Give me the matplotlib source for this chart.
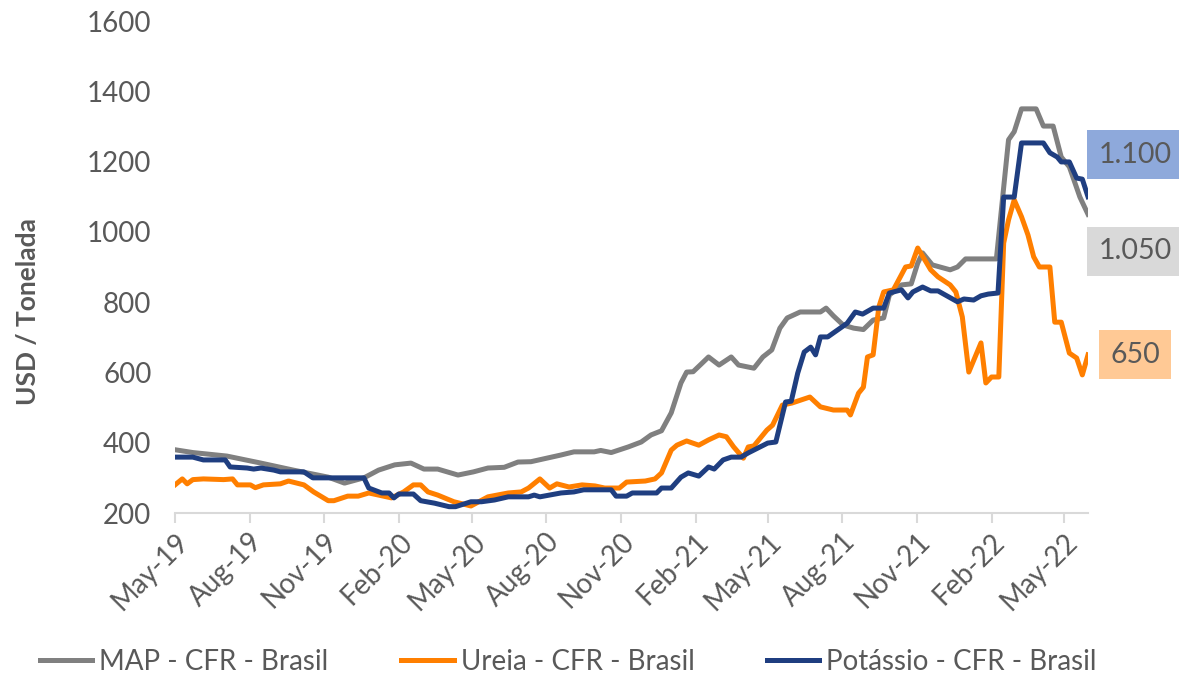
import matplotlib
matplotlib.use("Agg")
import matplotlib.pyplot as plt
import matplotlib.dates as mdates
import pandas as pd

# MAP - CFR - Brasil (USD / t)
map_dates = ["2019-05-01", "2019-05-23", "2019-07-04", "2019-08-15", "2019-09-24", "2019-11-06",
             "2019-11-26", "2019-12-20", "2020-01-07", "2020-01-27", "2020-02-16", "2020-03-03",
             "2020-03-20", "2020-04-14", "2020-05-03", "2020-05-21", "2020-06-10", "2020-06-27",
             "2020-07-13", "2020-08-19", "2020-09-04", "2020-09-29", "2020-10-07", "2020-10-20",
             "2020-11-10", "2020-11-26", "2020-12-08", "2020-12-21", "2021-01-02", "2021-01-14",
             "2021-01-21", "2021-01-29", "2021-02-08", "2021-02-17", "2021-03-02", "2021-03-17",
             "2021-03-26", "2021-04-14", "2021-04-25", "2021-05-06", "2021-05-16", "2021-05-25",
             "2021-06-10", "2021-07-05", "2021-07-12", "2021-07-21", "2021-08-02", "2021-08-15",
             "2021-08-27", "2021-09-08", "2021-09-21", "2021-09-28", "2021-10-13", "2021-10-25",
             "2021-11-02", "2021-11-08", "2021-11-20", "2021-12-12", "2021-12-21", "2021-12-31",
             "2022-02-07", "2022-02-22", "2022-03-01", "2022-03-10", "2022-03-28", "2022-04-06",
             "2022-04-18", "2022-04-28", "2022-05-08", "2022-05-21", "2022-05-31"]
map_vals = [380, 372, 362, 342, 322, 302,
            285, 300, 322, 337, 342, 325,
            325, 308, 317, 328, 330, 345,
            346, 365, 374, 374, 378, 372,
            388, 402, 422, 434, 485, 570,
            601, 602, 624, 644, 621, 644,
            621, 612, 644, 664, 726, 755,
            772, 772, 783, 761, 735, 726,
            722, 749, 755, 820, 849, 852,
            911, 940, 906, 892, 900, 923,
            923, 1262, 1285, 1350, 1350, 1301,
            1301, 1213, 1185, 1099, 1050]

# Ureia - CFR - Brasil
ureia_dates = ["2019-05-01", "2019-05-10", "2019-05-16", "2019-05-23", "2019-06-05", "2019-06-30",
               "2019-07-11", "2019-07-17", "2019-08-02", "2019-08-08", "2019-08-18", "2019-09-08",
               "2019-09-18", "2019-10-07", "2019-10-19", "2019-11-06", "2019-11-13", "2019-11-30",
               "2019-12-13", "2019-12-26", "2020-01-23", "2020-02-07", "2020-02-19", "2020-02-28",
               "2020-03-08", "2020-03-20", "2020-04-09", "2020-04-30", "2020-05-21", "2020-06-15",
               "2020-07-01", "2020-07-10", "2020-07-24", "2020-08-05", "2020-08-14", "2020-08-29",
               "2020-09-14", "2020-09-30", "2020-10-12", "2020-10-30", "2020-11-08", "2020-12-01",
               "2020-12-13", "2020-12-21", "2021-01-02", "2021-01-09", "2021-01-21", "2021-02-05",
               "2021-02-17", "2021-03-02", "2021-03-11", "2021-03-20", "2021-04-01", "2021-04-07",
               "2021-04-14", "2021-04-30", "2021-05-07", "2021-05-19", "2021-05-31", "2021-06-22",
               "2021-07-05", "2021-07-21", "2021-08-07", "2021-08-11", "2021-08-21", "2021-08-27",
               "2021-09-01", "2021-09-08", "2021-09-15", "2021-09-21", "2021-10-03", "2021-10-18",
               "2021-10-25", "2021-11-02", "2021-11-18", "2021-11-27", "2021-12-12", "2021-12-19",
               "2021-12-27", "2022-01-04", "2022-01-19", "2022-01-25", "2022-02-01", "2022-02-10",
               "2022-02-16", "2022-02-22", "2022-03-01", "2022-03-10", "2022-03-18", "2022-03-25",
               "2022-04-01", "2022-04-14", "2022-04-20", "2022-04-28", "2022-05-08", "2022-05-17",
               "2022-05-24", "2022-05-31"]
ureia_vals = [280, 297, 283, 295, 297, 295,
              297, 280, 280, 272, 280, 283,
              291, 280, 260, 235, 235, 248,
              248, 257, 243, 260, 280, 280,
              260, 251, 232, 220, 246, 257,
              260, 271, 297, 271, 283, 274,
              280, 277, 271, 271, 288, 291,
              297, 314, 379, 393, 405, 393,
              408, 422, 417, 388, 356, 388,
              391, 436, 450, 507, 513, 530,
              502, 493, 493, 479, 541, 558,
              644, 650, 786, 829, 835, 900,
              903, 954, 892, 872, 849, 829,
              758, 601, 684, 570, 587, 587,
              968, 1034, 1091, 1043, 991, 929,
              900, 900, 743, 743, 655, 641,
              593, 650]

# Potássio - CFR - Brasil
pot_dates = ["2019-05-01", "2019-05-23", "2019-06-05", "2019-07-02", "2019-07-08", "2019-07-29",
             "2019-08-06", "2019-08-15", "2019-08-31", "2019-09-08", "2019-10-07", "2019-10-18",
             "2019-12-20", "2019-12-26", "2020-01-11", "2020-01-20", "2020-01-26", "2020-02-01",
             "2020-02-19", "2020-02-28", "2020-03-16", "2020-04-03", "2020-04-11", "2020-04-30",
             "2020-05-13", "2020-05-29", "2020-06-15", "2020-07-10", "2020-07-17", "2020-07-24",
             "2020-08-19", "2020-09-04", "2020-09-16", "2020-10-20", "2020-10-26", "2020-11-08",
             "2020-11-15", "2020-12-15", "2020-12-21", "2021-01-02", "2021-01-14", "2021-01-23",
             "2021-02-05", "2021-02-17", "2021-02-24", "2021-03-07", "2021-03-17", "2021-03-29",
             "2021-04-07", "2021-04-19", "2021-05-01", "2021-05-11", "2021-05-23", "2021-05-30",
             "2021-06-07", "2021-06-15", "2021-06-23", "2021-06-29", "2021-07-05", "2021-07-14",
             "2021-08-07", "2021-08-17", "2021-08-26", "2021-09-08", "2021-09-21", "2021-09-28",
             "2021-10-13", "2021-10-21", "2021-10-27", "2021-11-08", "2021-11-18", "2021-11-27",
             "2021-12-21", "2021-12-29", "2022-01-10", "2022-01-19", "2022-01-28", "2022-02-09",
             "2022-02-16", "2022-03-01", "2022-03-10", "2022-04-06", "2022-04-14", "2022-04-23",
             "2022-04-28", "2022-05-08", "2022-05-17", "2022-05-24", "2022-05-31"]
pot_vals = [359, 359, 351, 351, 331, 328,
            325, 328, 322, 317, 317, 300,
            300, 271, 257, 257, 243, 254,
            254, 235, 228, 218, 218, 232,
            232, 237, 246, 246, 251, 246,
            257, 260, 266, 266, 248, 248,
            257, 257, 271, 271, 302, 314,
            305, 331, 325, 351, 359, 359,
            371, 385, 399, 402, 516, 518,
            598, 658, 672, 650, 701, 701,
            740, 772, 766, 783, 783, 826,
            835, 812, 829, 843, 832, 832,
            801, 809, 806, 818, 823, 826,
            1099, 1099, 1253, 1253, 1225, 1213,
            1199, 1199, 1153, 1150, 1100]

series_names = ["MAP - CFR - Brasil", "Ureia - CFR - Brasil", "Potássio - CFR - Brasil"]
line_colors = ["#808080", "#FF7F00", "#1F3E80"]
box_colors = ["#D9D9D9", "#FFC995", "#8EA9DB"]
label_shift = [-37, 0, 42]  # pixels, so the end labels don't overlap

plt.rcParams["font.family"] = ["Lato", "DejaVu Sans"]
txt_color = "#595959"

fig = plt.figure(figsize=(11.79, 6.77), dpi=100)
ax = fig.add_axes([175 / 1179, 1 - 513 / 677, (1088 - 175) / 1179, (513 - 21) / 677])

all_dates = [map_dates, ureia_dates, pot_dates]
all_vals = [map_vals, ureia_vals, pot_vals]
for d, v, name, c in zip(all_dates, all_vals, series_names, line_colors):
    ax.plot(pd.to_datetime(d), v, color=c, lw=3.6, label=name, solid_joinstyle="round")

# end-of-series value boxes
for d, v, c, bc, dy in zip(all_dates, all_vals, line_colors, box_colors, label_shift):
    txt = f"{v[-1]:,.0f}".replace(",", ".")
    ax.annotate(txt, xy=(pd.to_datetime(d[-1]), v[-1]), xytext=(47, dy),
                textcoords="offset pixels", ha="center", va="center",
                fontsize=20.5, color=txt_color, annotation_clip=False,
                bbox=dict(boxstyle="square,pad=0.4", fc=bc, ec="none"))

ax.set_ylim(200, 1600)
ax.set_yticks(range(200, 1601, 200))
ax.set_xlim(pd.Timestamp("2019-05-01"), pd.Timestamp("2022-05-31"))
ax.xaxis.set_major_locator(mdates.MonthLocator(bymonth=[2, 5, 8, 11]))
ax.xaxis.set_major_formatter(mdates.DateFormatter("%b-%y"))

for s in ["top", "right", "left"]:
    ax.spines[s].set_visible(False)
ax.spines["bottom"].set_color("#D9D9D9")
ax.spines["bottom"].set_linewidth(1.5)
ax.tick_params(axis="x", colors="#D9D9D9", length=7, width=1.5, labelcolor=txt_color,
               labelsize=20, pad=4)
ax.tick_params(axis="y", length=0, labelcolor=txt_color, labelsize=20, pad=17)
for lab in ax.get_xticklabels():
    lab.set_rotation(45)
    lab.set_ha("right")
    lab.set_rotation_mode("anchor")

ax.set_ylabel("USD / Tonelada", fontsize=19, fontweight="bold", color=txt_color)
ax.yaxis.set_label_coords(-0.148, 0.41)

fig.legend(loc="center", bbox_to_anchor=(0.482, 0.022), ncol=3, frameon=False,
           fontsize=20, handlelength=1.9, handletextpad=0.25, columnspacing=2.6,
           labelcolor=txt_color)

fig.savefig("out.png", dpi=100)
